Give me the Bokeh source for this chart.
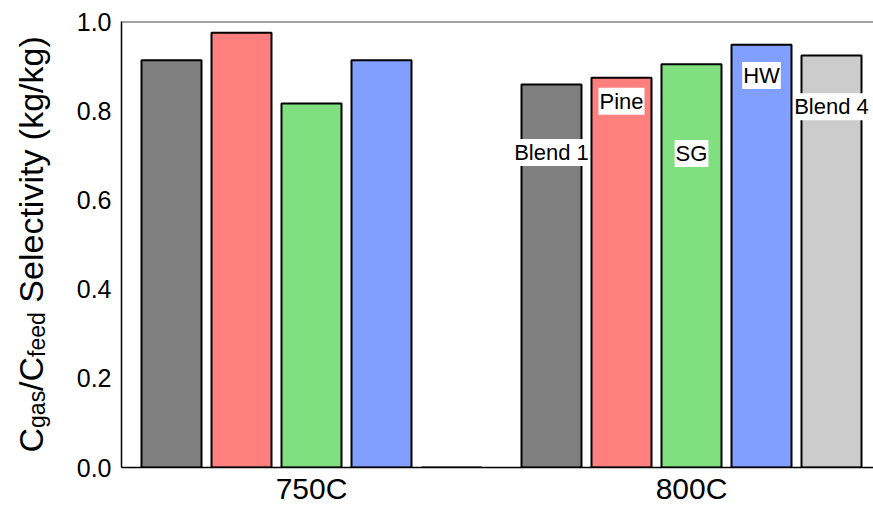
import numpy as np
from bokeh.plotting import figure
from bokeh.layouts import row
from bokeh.models import ColumnDataSource, Range1d, FixedTicker, NumeralTickFormatter, Span
from bokeh.core.properties import value
from bokeh.embed import file_html
from bokeh.resources import INLINE

# ---- data ----
groups = ["750C", "800C"]
series = ["Blend 1", "Pine", "SG", "HW", "Blend 4"]
blend1 = [0.913, 0.859]
pine = [0.975, 0.874]
sg = [0.816, 0.904]
hw = [0.913, 0.948]
blend4 = [0.0, 0.924]
y_ticks = [0.0, 0.2, 0.4, 0.6, 0.8, 1.0]
label_group = "800C"
y_label_parts = ["C", "gas", "/C", "feed", "Selectivity (kg/kg)"]

# ---- styles / layout ----
colors = ["#808080", "#FF7F7F", "#80E080", "#809FFF", "#CCCCCC"]
label_y = [0.706, 0.821, 0.704, 0.879, 0.809]
BAR_STEP = 1.0
GROUP_STEP = 380 / 70
BAR_WIDTH = 60 / 70
FONT = "Liberation Sans"
W, H = 873, 507
LEFT_W = 58
TOP, BOTTOM = 21, 467   # frame top / bottom in page pixels

values = [blend1, pine, sg, hw, blend4]

p = figure(width=W - LEFT_W, height=H, output_backend="svg", toolbar_location=None,
           x_range=Range1d(-50 / 70, (873 - 171) / 70), y_range=Range1d(0, 1.0),
           min_border_left=121 - LEFT_W, min_border_right=0, min_border_top=TOP,
           min_border_bottom=H - BOTTOM)
p.background_fill_color = "white"
p.border_fill_color = "white"
p.outline_line_color = None
p.grid.visible = False

gidx = np.arange(len(groups))
centers = [float(g * GROUP_STEP + 2 * BAR_STEP) for g in gidx]

for k, (name, vals) in enumerate(zip(series, values)):
    xs = gidx * GROUP_STEP + k * BAR_STEP
    src = ColumnDataSource(dict(x=xs, top=vals))
    p.vbar(x="x", top="top", bottom=0, width=BAR_WIDTH, source=src,
           fill_color=colors[k], line_color="black", line_width=2)
    gi = groups.index(label_group)
    p.text(x=[gi * GROUP_STEP + k * BAR_STEP], y=[label_y[k]], text=[name],
           text_font=value(FONT), text_font_size=value("22px"),
           text_align="center", text_baseline="middle", text_color="black",
           background_fill_color="white", padding=1)

p.add_layout(Span(location=1.0, dimension="width", line_color="#444444", line_width=2))

# x axis
p.xaxis.ticker = FixedTicker(ticks=centers)
p.xaxis.major_label_overrides = {c: g for c, g in zip(centers, groups)}
p.xaxis.major_label_text_font = FONT
p.xaxis.major_label_text_font_size = "30px"
p.xaxis.major_label_text_color = "black"
p.xaxis.major_label_standoff = 4
p.xaxis.major_tick_in = 0
p.xaxis.major_tick_out = 0
p.xaxis.minor_tick_line_color = None
p.xaxis.axis_line_color = "black"
p.xaxis.axis_line_width = 1.5

# y axis
p.yaxis.ticker = FixedTicker(ticks=y_ticks)
p.yaxis.formatter = NumeralTickFormatter(format="0.0")
p.yaxis.major_label_text_font = FONT
p.yaxis.major_label_text_font_size = "25px"
p.yaxis.major_label_text_color = "black"
p.yaxis.major_label_standoff = 10
p.yaxis.major_tick_in = 0
p.yaxis.major_tick_out = 0
p.yaxis.minor_tick_line_color = None
p.yaxis.axis_line_color = "black"
p.yaxis.axis_line_width = 1.5

# ---- y axis title (with subscripts) in a narrow strip on the left ----
lab = figure(width=LEFT_W, height=H, output_backend="svg", toolbar_location=None,
             x_range=Range1d(0, LEFT_W), y_range=Range1d(H - BOTTOM, H - TOP),
             x_axis_type=None, y_axis_type=None, min_border_left=0, min_border_right=0,
             min_border_top=TOP, min_border_bottom=H - BOTTOM)
lab.outline_line_color = None
lab.grid.visible = False
lab.background_fill_color = "white"
lab.border_fill_color = "white"

BASE, SUB = 34, 23
em = {"C": 0.722, "gas": 1.612, "/C": 1.0, "feed": 1.946, "Selectivity (kg/kg)": 7.835}
gap_before = {"Selectivity (kg/kg)": 0.278}
is_sub = {"gas": True, "feed": True}
pos = H - 452.0
for txt in y_label_parts:
    size = SUB if is_sub.get(txt) else BASE
    xb = 36 if is_sub.get(txt) else 30
    pos += gap_before.get(txt, 0) * size
    lab.text(x=[xb], y=[pos], text=[txt], angle=np.pi / 2,
             text_font=value(FONT), text_font_size=value(f"{size}px"),
             text_align="left", text_baseline="alphabetic", text_color="black")
    pos += em[txt] * size

layout = row(lab, p)
open("out.html", "w").write(file_html(layout, INLINE))
